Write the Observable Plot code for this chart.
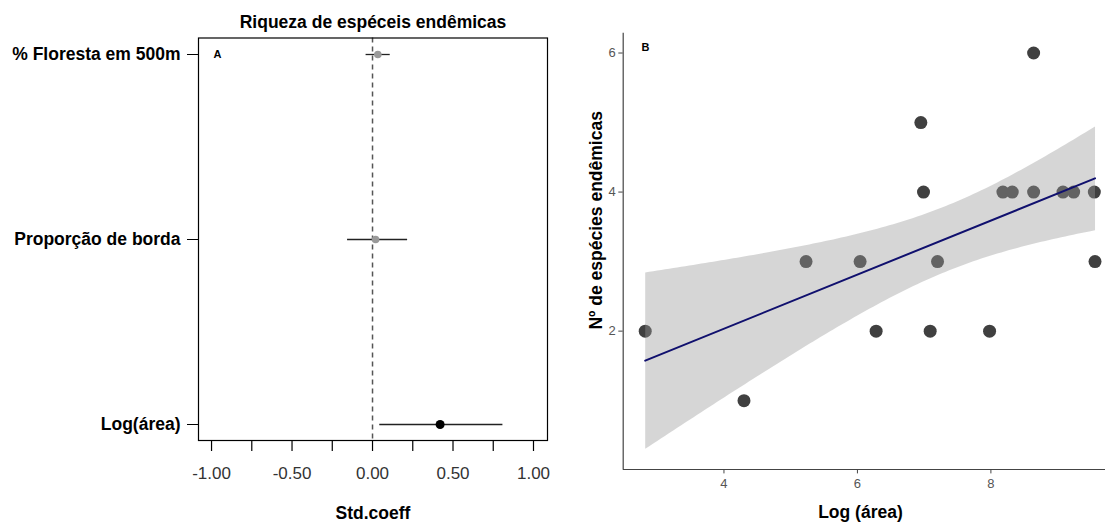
<!DOCTYPE html>
<html><head><meta charset="utf-8">
<script src="https://cdn.jsdelivr.net/npm/d3@7"></script>
<script src="https://cdn.jsdelivr.net/npm/@observablehq/plot@0.6"></script>
<style>
html,body{margin:0;padding:0;background:#fff;overflow:hidden;width:1105px;height:523px;}
#wrap{position:relative;width:1105px;height:523px;overflow:hidden;background:#fff;}
#left{position:absolute;left:0;top:0;width:555px;height:523px;}
#right{position:absolute;left:555px;top:0;width:590px;height:523px;}
svg{background:transparent !important;max-width:none !important;}
</style></head><body><div id="wrap"><div id="left"></div><div id="right"></div></div>
<script>
// Panel A: standardized coefficients
const predictors = ["% Floresta em 500m", "Proporção de borda", "Log(área)"];
const coefEstimate = [0.033, 0.019, 0.42];
const coefLower = [-0.04, -0.155, 0.045];
const coefUpper = [0.11, 0.218, 0.81];
const stdTicks = [-1, -0.75, -0.5, -0.25, 0, 0.25, 0.5, 0.75, 1];

// Panel B: endemic species richness vs log(area)
const logArea = [2.82, 4.30, 5.23, 6.04, 6.28, 6.95, 6.99, 7.09, 7.20, 7.98, 8.18, 8.32, 8.64, 8.64, 9.08, 9.24, 9.55, 9.56];
const endemicRichness = [2, 1, 3, 3, 2, 5, 4, 2, 3, 2, 4, 4, 6, 4, 4, 4, 4, 3];
const areaTicks = [4, 6, 8];
const richnessTicks = [2, 4, 6];

const font = "'Liberation Sans', Arial, Helvetica, sans-serif";

const coefTable = predictors.map((p, i) => ({predictor: p, est: coefEstimate[i], lo: coefLower[i], hi: coefUpper[i]}));
const signif = d => d.lo > 0 || d.hi < 0;

const leftXDomain = [-1.081, 1.087];
const left = Plot.plot({
  width: 555, height: 523,
  marginLeft: 198, marginRight: 8, marginTop: 37.5, marginBottom: 83,
  style: {fontFamily: font, fontSize: "17px", color: "#000", background: "transparent", maxWidth: "none"},
  x: {domain: leftXDomain},
  y: {type: "point", domain: predictors, range: [54, 424], padding: 0},
  marks: [
    Plot.ruleX([0], {stroke: "#555", strokeDasharray: "5,4", strokeWidth: 1.5}),
    Plot.ruleY(coefTable, {y: "predictor", x1: "lo", x2: "hi", stroke: "#222", strokeWidth: 1.3}),
    Plot.dot(coefTable, {filter: d => !signif(d), x: "est", y: "predictor", r: 3.8, fill: "#999", stroke: "none"}),
    Plot.dot(coefTable, {filter: signif, x: "est", y: "predictor", r: 4.5, fill: "#000", stroke: "none"}),
    Plot.frame({stroke: "#000", strokeWidth: 1.2}),
    Plot.axisX({ticks: stdTicks, tickSize: 11, tickPadding: 15, strokeWidth: 1.2,
      tickFormat: d => Number.isInteger(d * 2) ? d.toFixed(2) : "", fontSize: 17, fill: "#333", label: null}),
    Plot.axisY({tickSize: 11, tickPadding: 7, fontWeight: "bold", fontSize: 17.5, label: null}),
    Plot.text(["Riqueza de espéceis endêmicas"], {frameAnchor: "top", lineAnchor: "middle", dy: -15.5, fontWeight: "bold", fontSize: 17.5}),
    Plot.text(["Std.coeff"], {frameAnchor: "bottom", lineAnchor: "middle", dy: 73, fontWeight: "bold", fontSize: 17.5}),
    Plot.text(["A"], {frameAnchor: "top-left", lineAnchor: "middle", dx: 15, dy: 16.5, fontWeight: "bold", fontSize: 11})
  ]
});
document.getElementById("left").appendChild(left);

const obs = logArea.map((x, i) => ({x, y: endemicRichness[i]}));
const rightXDomain = [2.49, 9.9];
const rightYDomain = [0.01, 6.285];
const right = Plot.plot({
  width: 590, height: 523,
  marginLeft: 67.7, marginRight: 27.8, marginTop: 32.7, marginBottom: 54,
  style: {fontFamily: font, fontSize: "13px", color: "#000", background: "transparent", maxWidth: "none"},
  x: {domain: rightXDomain},
  y: {domain: rightYDomain},
  marks: [
    Plot.dot(obs, {x: "x", y: "y", r: 6.5, fill: "#404040", stroke: "none"}),
    Plot.linearRegressionY(obs, {x: "x", y: "y", ci: 0.93, stroke: "#10106e", strokeWidth: 2, fill: "#999999", fillOpacity: 0.4}),
    Plot.ruleX([rightXDomain[0]], {stroke: "#444", strokeWidth: 1.2}),
    Plot.ruleY([rightYDomain[0]], {stroke: "#444", strokeWidth: 1.2}),
    Plot.axisX({ticks: areaTicks, tickFormat: d => String(d), tickSize: 4.4, tickPadding: 5, stroke: "#444", fill: "#555", fontSize: 13, label: null}),
    Plot.axisY({ticks: richnessTicks, tickFormat: d => String(d), tickSize: 4.4, tickPadding: 3, stroke: "#444", fill: "#555", fontSize: 13, label: null}),
    Plot.text(["Log (área)"], {frameAnchor: "bottom", lineAnchor: "middle", textAnchor: "middle", dx: -10, dy: 43, fontWeight: "bold", fontSize: 17.5}),
    Plot.text(["Nº de espécies endêmicas"], {frameAnchor: "left", lineAnchor: "middle", textAnchor: "middle", rotate: -90, dx: -26.7, dy: -31, fontWeight: "bold", fontSize: 17.5}),
    Plot.text(["B"], {frameAnchor: "top-left", lineAnchor: "middle", textAnchor: "middle", dx: 22.3, dy: 14.3, fontWeight: "bold", fontSize: 11})
  ]
});
document.getElementById("right").appendChild(right);
</script>
</body></html>
